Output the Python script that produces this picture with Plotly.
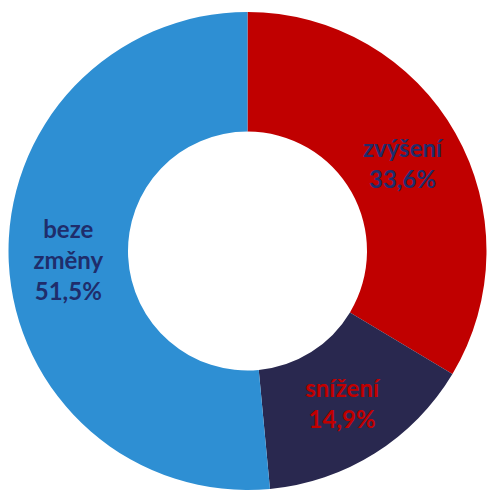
import plotly.graph_objects as go

# Share of respondents by expected change
categories = ["zvýšení", "snížení", "beze změny"]
display_names = ["zvýšení", "snížení", "beze<br>změny"]
values = [33.6, 14.9, 51.5]

slice_colors = ["#C00000", "#29284F", "#2E8FD3"]
label_colors = ["#1F2D6B", "#C00000", "#1F2D6B"]

texts = [
    "<b>" + f"{n}<br>{v:.1f}%".replace(".", ",").replace("<br>", "</b><br><b>") + "</b>"
    for n, v in zip(display_names, values)
]

fig = go.Figure(
    go.Pie(
        labels=categories,
        values=values,
        text=texts,
        textinfo="text",
        textposition="inside",
        insidetextorientation="horizontal",
        hole=0.5,
        sort=False,
        direction="clockwise",
        rotation=0,
        marker=dict(colors=slice_colors, line=dict(width=0)),
        insidetextfont=dict(family="Lato", size=24, color=label_colors),
        showlegend=False,
        hoverinfo="label+percent",
    )
)

fig.update_layout(
    width=487,
    height=490,
    margin=dict(l=8, r=0, t=12, b=0),
    paper_bgcolor="white",
    plot_bgcolor="white",
    uniformtext=dict(minsize=24, mode="show"),
)

fig.write_html("out.html")
